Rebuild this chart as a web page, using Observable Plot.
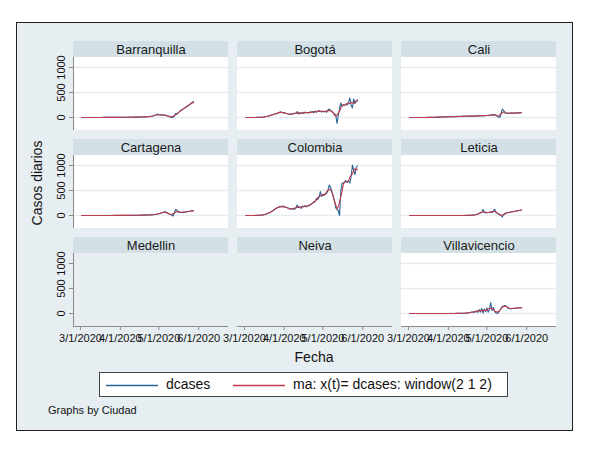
<!DOCTYPE html>
<html>
<head>
<meta charset="utf-8">
<script src="https://cdn.jsdelivr.net/npm/d3@7"></script>
<script src="https://cdn.jsdelivr.net/npm/@observablehq/plot@0.6"></script>
<style>
  body { margin: 0; background: #fff; font-family: "Liberation Sans", Arial, Helvetica, sans-serif; }
  #wrap { position: relative; width: 601px; height: 450px; overflow: hidden; background: #fff; }
  #frame { position: absolute; left: 16px; top: 22px; width: 557px; height: 409px; box-sizing: border-box; border: 1px solid #1e1e1e; background: #e7eef1; }
  #chart { position: absolute; left: 0; top: 0; }
  .ytitle { position: absolute; left: 37px; top: 183px; transform: translate(-50%, -50%) rotate(-90deg); font-size: 14px; white-space: nowrap; color: #111; }
  .xtitle { position: absolute; left: 314px; top: 357px; transform: translate(-50%, -50%); font-size: 14px; color: #111; }
  #legend { position: absolute; left: 99px; top: 372px; width: 409px; height: 25px; box-sizing: border-box; border: 1px solid #444; background: #fff; font-size: 14px; color: #111; }
  #legend svg { position: absolute; top: 0; left: 0; }
  #legend .tx { position: absolute; top: 0; line-height: 23px; white-space: nowrap; }
  .note { position: absolute; left: 48px; top: 404px; font-size: 11px; color: #111; white-space: nowrap; }
</style>
</head>
<body>
<div id="wrap">
  <div id="frame"></div>
  <div id="chart"></div>
  <div class="ytitle">Casos diarios</div>
  <div class="xtitle">Fecha</div>
  <div id="legend"></div>
  <div class="note">Graphs by Ciudad</div>
</div>
<script>
// ---- data (daily cases, 2 Mar 2020 .. 28 May 2020) ----
const cities = ["Barranquilla", "Bogotá", "Cali", "Cartagena", "Colombia", "Leticia", "Medellin", "Neiva", "Villavicencio"];
const firstDay = "2020-03-02";
const tickDates = ["2020-03-01", "2020-04-01", "2020-05-01", "2020-06-01"];
const tickLabels = ["3/1/2020", "4/1/2020", "5/1/2020", "6/1/2020"];
const yTicks = [0, 500, 1000];
const yTickLabels = ["0", "500", "1000"];
const seriesNames = ["dcases", "ma: x(t)= dcases: window(2 1 2)"];

const barranquilla = [
  0,0,0,0,0,0,0,0,0,0,
  0,0,0,1,0,1,2,1,2,3,
  2,3,2,4,3,2,5,3,4,2,
  3,5,4,6,3,5,4,7,5,6,
  8,6,9,7,10,8,12,9,11,14,
  12,15,18,20,22,25,40,45,50,70,
  50,55,50,55,50,45,40,30,20,8,
  0,5,30,80,60,90,120,140,160,170,
  190,205,225,240,260,280,300,320];
const bogota = [
  0,0,0,0,0,0,1,0,1,2,
  3,5,4,6,10,15,20,25,30,40,
  50,55,65,70,80,90,100,115,105,90,
  100,85,80,70,65,60,75,70,85,80,
  120,70,90,75,105,80,110,95,100,85,
  115,100,120,95,130,105,120,140,125,110,
  130,115,120,105,150,170,140,120,100,70,
  60,-120,40,180,290,230,250,240,270,250,
  300,390,240,190,370,280,330,360];
const cali = [
  0,0,0,0,0,0,0,0,0,0,
  0,0,1,2,1,3,2,4,3,5,
  6,8,5,10,7,12,9,14,10,15,
  12,18,14,16,20,15,22,18,24,20,
  25,20,28,22,30,25,27,32,26,30,
  28,35,30,33,38,30,36,40,34,38,
  40,45,38,50,55,48,60,50,30,10,
  0,60,170,140,90,85,80,90,85,88,
  90,88,92,90,95,92,95,95];
const cartagena = [
  0,0,0,0,0,0,0,0,0,0,
  0,0,0,0,0,0,1,0,1,0,
  1,2,1,0,2,1,3,1,2,1,
  2,3,1,4,2,3,2,5,3,4,
  3,5,4,6,5,7,6,8,7,9,
  8,10,9,12,11,14,16,20,25,30,
  35,45,50,60,70,75,60,45,30,20,
  10,-10,40,120,110,70,60,65,60,70,
  65,70,75,80,85,90,95,100];
const colombia = [
  0,0,0,0,1,0,0,1,2,3,
  5,6,8,10,16,22,30,40,50,60,
  78,95,110,130,150,160,175,185,170,190,
  175,165,160,150,130,125,140,135,120,150,
  210,160,170,140,190,175,195,170,200,190,
  210,230,250,260,280,340,320,360,480,380,
  420,400,430,450,500,610,560,480,400,300,
  150,120,100,0,500,650,640,680,700,660,
  690,650,780,1010,900,820,960,990];
const leticia = [
  0,0,0,0,0,0,0,0,0,0,
  0,0,0,0,0,0,0,0,0,0,
  0,0,0,0,0,0,0,0,0,0,
  0,0,0,0,0,0,1,0,0,1,
  0,1,0,2,1,2,3,2,5,8,
  10,15,20,30,40,50,60,120,60,50,
  55,60,65,70,60,80,125,70,40,30,
  20,0,-30,20,40,50,55,60,65,70,
  75,80,85,90,95,100,105,110];
const villavicencio = [
  0,0,0,0,0,0,0,0,0,0,
  0,0,0,0,0,0,0,0,0,0,
  0,0,0,1,0,0,1,0,0,1,
  0,1,2,1,0,2,1,3,2,4,
  3,5,4,6,8,10,15,20,30,20,
  40,25,60,20,80,30,100,10,90,40,
  110,30,80,220,60,120,40,10,0,20,
  60,100,140,150,160,150,120,100,95,98,
  100,103,105,108,110,112,115,118];

const seriesByCity = {
  "Barranquilla": barranquilla, "Bogotá": bogota, "Cali": cali, "Cartagena": cartagena,
  "Colombia": colombia, "Leticia": leticia, "Villavicencio": villavicencio
};

const blue = "#2a6396";
const red = "#bf3a4b";

// panels (3 x 3 grid)
const panels = cities.map((c, i) => ({city: c, col: i % 3, row: Math.floor(i / 3), hasData: !!seriesByCity[c]}));
const dataPanels = panels.filter(p => p.hasData);

// long-format rows, with Stata-style moving average window(2 1 2)
const t0 = new Date(firstDay + "T00:00Z");
const rows = [];
for (const p of dataPanels) {
  const v = seriesByCity[p.city];
  v.forEach((d, i) => {
    const lo = Math.max(0, i - 2), hi = Math.min(v.length - 1, i + 2);
    rows.push({
      city: p.city, col: p.col, row: p.row,
      date: d3.utcDay.offset(t0, i),
      dcases: d,
      ma: d3.mean(v.slice(lo, hi + 1))
    });
  });
}
const grid = dataPanels.flatMap(p => yTicks.map(v => ({...p, v})));
const xDomain = [new Date("2020-02-24T14:00Z"), new Date("2020-06-24T04:30Z")];
const plotBottom = -260, plotTop = 1200, stripTop = 1520;
const ticks = tickDates.map(d => new Date(d + "T00:00Z"));
const labelOf = d => tickLabels[ticks.findIndex(t => +t === +d)];
const yLabelOf = v => yTickLabels[yTicks.indexOf(v)];

const chart = Plot.plot({
  width: 601, height: 350,
  marginTop: 40, marginLeft: 72, marginRight: 44, marginBottom: 24,
  style: {background: "transparent", fontFamily: "'Liberation Sans', Arial, Helvetica, sans-serif", overflow: "visible"},
  fx: {domain: [0, 1, 2], paddingInner: 0.052, paddingOuter: 0, axis: null},
  fy: {domain: [0, 1, 2], paddingInner: 0.096, paddingOuter: 0, axis: null},
  x: {type: "utc", domain: xDomain},
  y: {domain: [plotBottom, stripTop]},
  marks: [
    Plot.rect(dataPanels, {fx: "col", fy: "row", y1: plotBottom, y2: plotTop, fill: "white"}),
    Plot.rect(panels, {fx: "col", fy: "row", y1: plotTop, y2: stripTop, fill: "#d3e1e6"}),
    Plot.text(panels, {fx: "col", fy: "row", y: (plotTop + stripTop) / 2, text: "city", frameAnchor: "middle", fontSize: 13, fontWeight: "normal", fill: "#1a1a1a"}),
    Plot.ruleY(grid, {fx: "col", fy: "row", y: "v", stroke: "#e4ecef", strokeWidth: 1.5}),
    Plot.line(rows, {fx: "col", fy: "row", x: "date", y: "dcases", z: "city", stroke: blue, strokeWidth: 1.1}),
    Plot.line(rows, {fx: "col", fy: "row", x: "date", y: "ma", z: "city", stroke: red, strokeWidth: 1.1}),
    Plot.ruleX(panels.filter(p => p.col === 0), {fx: "col", fy: "row", x: () => xDomain[0], y1: plotBottom, y2: plotTop, stroke: "#8a8a8a"}),
    Plot.ruleY(panels.filter(p => p.row === 2), {fx: "col", fy: "row", y: plotBottom, stroke: "#8a8a8a"}),
    Plot.axisY({ticks: yTicks, tickFormat: yLabelOf, tickSize: 4, tickRotate: -90, fontSize: 11, stroke: "#8a8a8a", fill: "#111", label: null}),
    Plot.axisX({ticks: ticks, tickFormat: labelOf, tickSize: 4, tickPadding: 4, fontSize: 11, stroke: "#8a8a8a", fill: "#111", label: null})
  ]
});
document.getElementById("chart").appendChild(chart);

// legend
const legend = document.getElementById("legend");
legend.innerHTML =
  `<svg width="407" height="23"><line x1="6" x2="58" y1="12.5" y2="12.5" stroke="${blue}" stroke-width="1.3"/>` +
  `<line x1="133" x2="185" y1="12.5" y2="12.5" stroke="${red}" stroke-width="1.3"/></svg>` +
  `<span class="tx" style="left:66px">${seriesNames[0]}</span>` +
  `<span class="tx" style="left:193px">${seriesNames[1]}</span>`;
</script>
</body>
</html>
